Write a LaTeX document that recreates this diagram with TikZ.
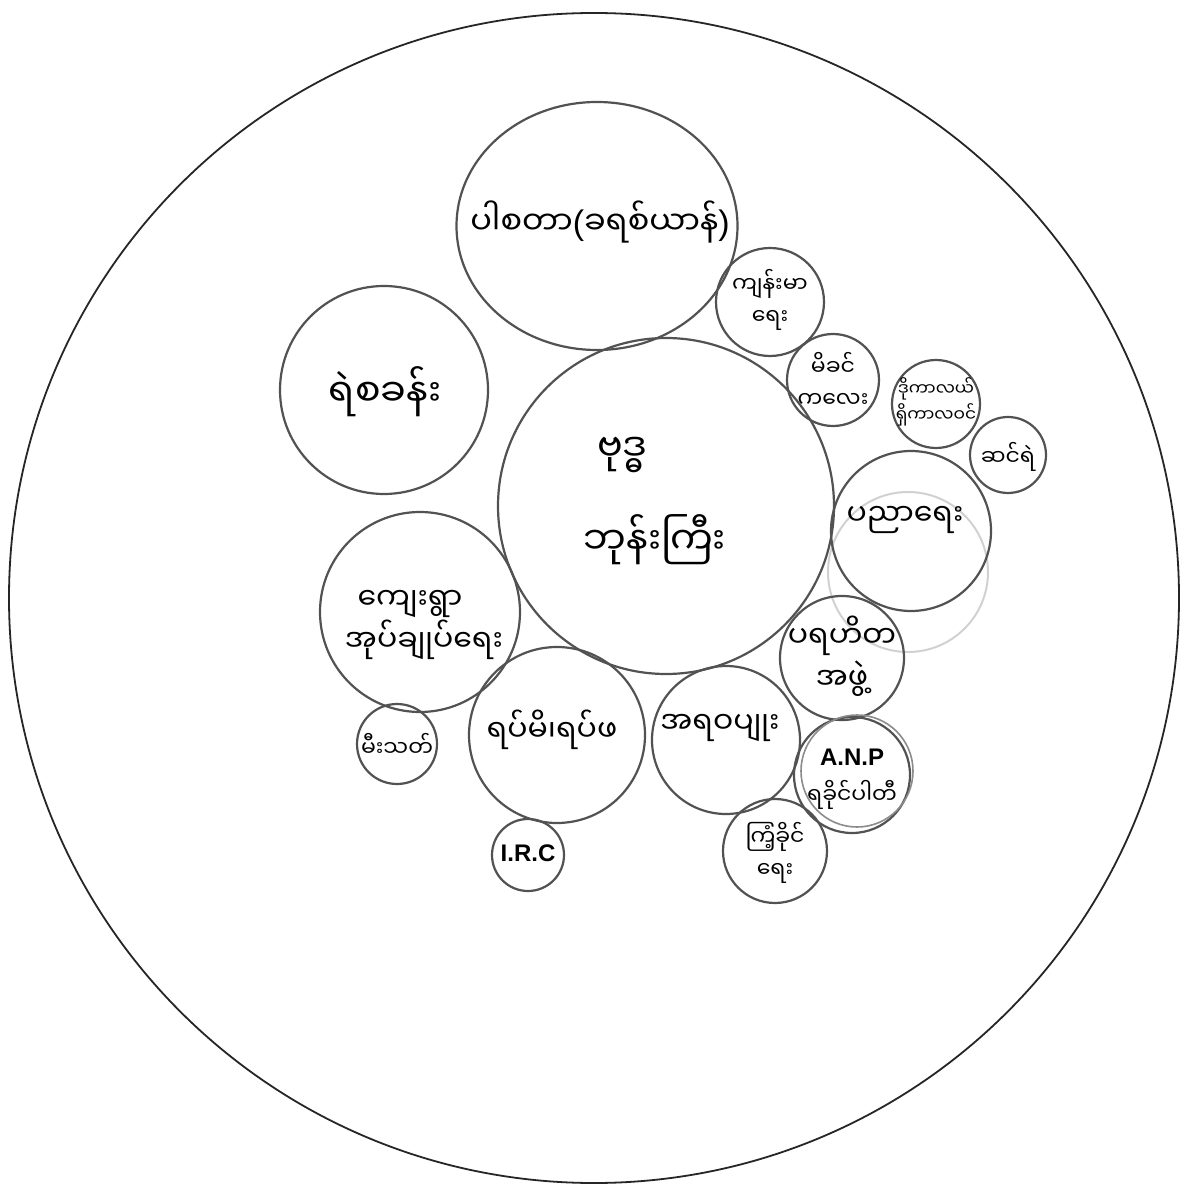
\documentclass[tikz,border=0pt]{standalone}
\usepackage{fontspec}
\usetikzlibrary{shapes.geometric}
\newfontfamily\my[Script=Myanmar]{Noto Sans Myanmar UI}
\setmainfont{Liberation Sans}
\newcommand{\paren}[1]{{\rmfamily\fontsize{17}{20}\selectfont #1}}
\begin{document}
\begin{tikzpicture}[x=0.5pt,y=-0.5pt]
\tikzset{
  bub/.style={circle,draw=black!68,line width=1.1pt,inner sep=0pt},
  faint/.style={circle,draw=black!18,line width=1pt,inner sep=0pt},
  big/.style={font=\my\fontsize{19}{26}\selectfont,align=center,inner sep=0pt},
  top/.style={font=\my\fontsize{16}{22}\selectfont,align=center,inner sep=0pt},
  mid/.style={font=\my\fontsize{15}{21}\selectfont,align=center,inner sep=0pt},
  sml/.style={font=\my\fontsize{11}{16}\selectfont,align=center,inner sep=0pt},
  tiny/.style={font=\my\fontsize{8.5}{13}\selectfont,align=center,inner sep=0pt},
  latn/.style={font=\fontsize{12}{16}\selectfont\bfseries,align=center,inner sep=0pt}
}
\fill[white] (0,0) rectangle (1189,1187);
\useasboundingbox (0,0) rectangle (1189,1187);
% outer circle
\node[circle,draw=black!85,line width=0.9pt,minimum size=585pt,inner sep=0pt] (outer) at (594,598) {};
% faint erased circle
\node[faint,minimum size=80pt] (ghost) at (908,572) {};
% circles
\node[bub,minimum size=168pt] (c0) at (666,506) {};
\node[ellipse,draw=black!68,line width=1.1pt,inner sep=0pt,minimum width=140.5pt,minimum height=124pt] (c1) at (597,226) {};
\node[bub,minimum size=104pt] (c2) at (384,390) {};
\node[bub,minimum size=100pt] (c3) at (420,612) {};
\node[bub,minimum size=88pt] (c4) at (557,735) {};
\node[bub,minimum size=74pt] (c5) at (726,740) {};
\node[bub,minimum size=62pt] (c6) at (842,658) {};
\node[bub,minimum size=80pt] (c7) at (911,531) {};
\node[bub,minimum size=54pt] (c8) at (770,302) {};
\node[bub,minimum size=46pt] (c9) at (833,380) {};
\node[bub,minimum size=44pt] (c10) at (936,404) {};
\node[bub,minimum size=38pt] (c11) at (1008,455) {};
\node[bub,minimum size=58pt] (c12) at (852,775) {};
\node[circle,draw=black!45,line width=0.8pt,inner sep=0pt,minimum size=56pt] (c12b) at (857,771) {};
\node[bub,minimum size=52pt] (c13) at (775,851) {};
\node[bub,minimum size=40pt] (c14) at (397,744) {};
\node[bub,minimum size=36pt] (c15) at (528,855) {};
% labels
\node[big] (t0a) at (622,455) {ဗုဒ္ဓ};
\node[big] (t0b) at (655,540) {ဘုန်းကြီး};
\node[top] (t1) at (600,222) {ပါစတာ\paren{(}ခရစ်ယာန်\paren{)}};
\node[big] (t2) at (385,392) {ရဲစခန်း};
\node[mid] (t3) at (410,625) {ကျေးရွာ\\\hspace*{14pt}အုပ်ချုပ်ရေး};
\node[mid] (t4) at (552,730) {ရပ်မိ၊ရပ်ဖ};
\node[mid] (t5) at (720,728) {အရဝပျုး};
\node[mid] (t6) at (842,656) {ပရဟိတ\\အဖွဲ့};
\node[mid] (t7) at (905,520) {ပညာရေး};
\node[sml] (t8) at (770,300) {ကျန်းမာ\\ရေး};
\node[sml] (t9) at (833,380) {မိခင်\\ကလေး};
\node[tiny] (t10) at (936,402) {ဒိုကာလယ်\\ရှိကာလဝင်};
\node[sml] (t11) at (1008,457) {ဆင်ရဲ};
\node[latn] (t12a) at (852,757) {A.N.P};
\node[sml] (t12b) at (852,795) {ရခိုင်ပါတီ};
\node[sml] (t13) at (775,853) {^^^^1000^^^^103c^^^^1036^^^^1037ခိုင်\\ရေး};
\node[sml] (t14) at (397,745) {မီးသတ်};
\node[latn] (t15) at (528,853) {I.R.C};
\end{tikzpicture}
\end{document}
